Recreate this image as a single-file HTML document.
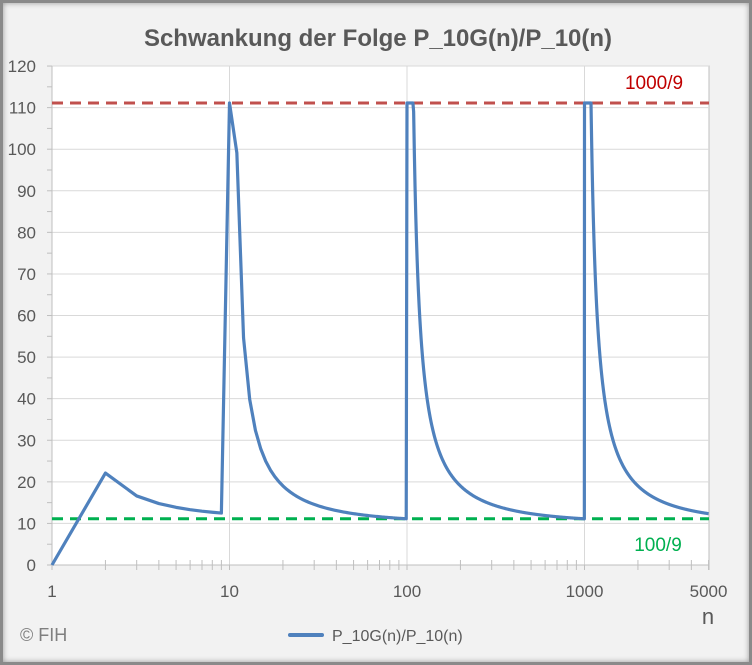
<!DOCTYPE html>
<html><head><meta charset="utf-8"><style>
body{margin:0;background:#fff}
#c{position:relative;width:752px;height:665px;background:#f2f2f2;box-sizing:border-box;border:3px solid #8a8a8a;box-shadow:inset 0 0 6px #999;font-family:"Liberation Sans",sans-serif;overflow:hidden}
</style></head><body><div id="c">
<svg id="s" width="752" height="665" style="position:absolute;left:-3px;top:-3px" font-family="Liberation Sans, sans-serif"></svg>
</div>
<script>
var s=document.getElementById('s'),h='';
function X(n){return 52+Math.log10(n)*177.5}
function Y(v){return 565-v*4.158}
h+='<rect x="52" y="66" width="657" height="499" fill="#fff" stroke="#bfbfbf"/>';
for(var v=10;v<=120;v+=10)h+='<line x1="52" x2="709" y1="'+Y(v)+'" y2="'+Y(v)+'" stroke="#d9d9d9"/>';
[10,100,1000].forEach(function(n){h+='<line x1="'+X(n)+'" x2="'+X(n)+'" y1="66" y2="565" stroke="#d9d9d9"/>'});
h+='<line x1="52" x2="709" y1="565" y2="565" stroke="#bfbfbf"/><line x1="52" x2="52" y1="66" y2="565" stroke="#bfbfbf"/>';
for(var v=0;v<=120;v+=10){h+='<line x1="47" x2="52" y1="'+Y(v)+'" y2="'+Y(v)+'" stroke="#bfbfbf"/>';if(v<120)h+='<line x1="47" x2="52" y1="'+Y(v+5)+'" y2="'+Y(v+5)+'" stroke="#bfbfbf"/>';
h+='<text x="36" y="'+(Y(v)+6)+'" text-anchor="end" font-size="17" fill="#595959">'+v+'</text>';}
for(var d=1;d<=1000;d*=10)for(var k=1;k<10;k++){var n=d*k;if(n>5000)break;h+='<line x1="'+X(n)+'" x2="'+X(n)+'" y1="'+(k==1?565:560)+'" y2="570" stroke="#bfbfbf"/>';}
h+='<line x1="709" x2="709" y1="560" y2="570" stroke="#bfbfbf"/>';
[[1,'1'],[10,'10'],[100,'100'],[1000,'1000'],[5000,'5000']].forEach(function(a){h+='<text x="'+X(a[0])+'" y="597" text-anchor="middle" font-size="17" fill="#595959">'+a[1]+'</text>'});
h+='<line x1="52" x2="709" y1="'+Y(1000/9)+'" y2="'+Y(1000/9)+'" stroke="#c0504d" stroke-width="3" stroke-dasharray="11,7"/>';
h+='<line x1="52" x2="709" y1="'+Y(100/9)+'" y2="'+Y(100/9)+'" stroke="#00b050" stroke-width="3" stroke-dasharray="11,7"/>';
function f(n){var a=100/9,b=1000/9;if(n==1)return 0;var d=n<10?1:n<100?10:n<1000?100:1000;if(n==d)return b;
if(d==1)return a+11/(n-1);
var c=d==10?89:d==100?890:8900;var v=a+c*(1/(n-d)-1/(9*d));return Math.min(v,b);}
var p='M'+X(1)+','+Y(0);
for(var n=2;n<=5000;n++){if(n>200&&n<1000&&n%2)continue;if(n>1200&&n%5)continue;p+='L'+X(n).toFixed(2)+','+Y(f(n)).toFixed(2);}
h+='<path d="'+p+'" fill="none" stroke="#4f81bd" stroke-width="3.2" stroke-linejoin="round"/>';
h+='<text x="378" y="46" text-anchor="middle" font-size="24" font-weight="bold" fill="#595959">Schwankung der Folge P_10G(n)/P_10(n)</text>';
h+='<text x="654" y="89" text-anchor="middle" font-size="19" fill="#c00000">1000/9</text>';
h+='<text x="658" y="551" text-anchor="middle" font-size="19" fill="#00b050">100/9</text>';
h+='<text x="708" y="624" text-anchor="middle" font-size="22" fill="#595959">n</text>';
h+='<text x="20" y="641" font-size="18" fill="#7f7f7f">© FIH</text>';
h+='<line x1="290" x2="322" y1="635" y2="635" stroke="#4f81bd" stroke-width="4" stroke-linecap="round"/>';
h+='<text x="332" y="641" font-size="16" fill="#595959">P_10G(n)/P_10(n)</text>';
s.innerHTML=h;
</script></body></html>
